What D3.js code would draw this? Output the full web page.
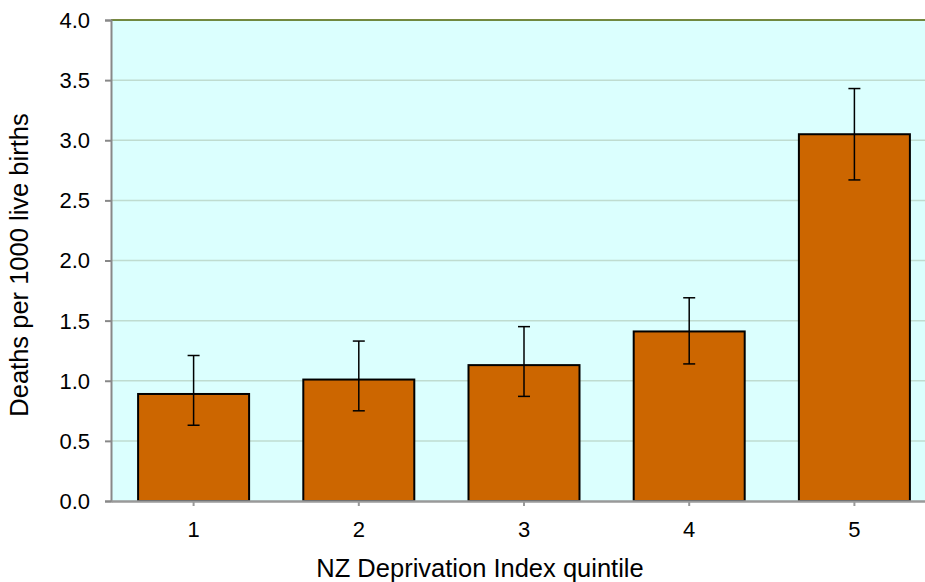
<!DOCTYPE html>
<html><head><meta charset="utf-8">
<script src="https://cdn.jsdelivr.net/npm/d3@7"></script>
<style>body{margin:0;background:#fff}svg{display:block}text{font-family:"Liberation Sans",Arial,sans-serif}</style>
</head><body>
<svg id="c" width="925" height="582"></svg>
<script>
const categories = ["1","2","3","4","5"];
const values = [0.89, 1.01, 1.13, 1.41, 3.05];
const lower = [0.63, 0.75, 0.87, 1.14, 2.67];
const upper = [1.21, 1.33, 1.45, 1.69, 3.43];
const yTicks = [0,0.5,1,1.5,2,2.5,3,3.5,4];

const svg = d3.select("#c");
const m = {l:111, t:20, r:937, b:501};
const xc = d3.scaleBand().domain(categories).range([m.l, m.r]);
const y = d3.scaleLinear().domain([0,4]).range([m.b, m.t]);

svg.append("rect").attr("x",m.l).attr("y",m.t).attr("width",m.r-m.l).attr("height",m.b-m.t).attr("fill","#dbfffe");
svg.selectAll(".grid").data(yTicks.filter(d=>d>0&&d<4)).enter().append("line")
  .attr("x1",m.l).attr("x2",m.r).attr("y1",d=>y(d)).attr("y2",d=>y(d))
  .attr("stroke","#bfdcd0").attr("stroke-width",1.5);
svg.append("line").attr("x1",m.l).attr("x2",m.r).attr("y1",y(4)).attr("y2",y(4)).attr("stroke","#4a6000").attr("stroke-width",1.5);

svg.selectAll(".bar").data(values).enter().append("rect")
  .attr("x",(d,i)=>xc(categories[i])+xc.bandwidth()/2-55.5).attr("width",111)
  .attr("y",d=>y(d)).attr("height",d=>y(0)-y(d))
  .attr("fill","#cc6600").attr("stroke","#000").attr("stroke-width",2);

const eb = svg.append("g").attr("stroke","#000").attr("stroke-width",1.5);
categories.forEach((c,i)=>{
  const cx = xc(c)+xc.bandwidth()/2;
  eb.append("line").attr("x1",cx).attr("x2",cx).attr("y1",y(upper[i])).attr("y2",y(lower[i]));
  eb.append("line").attr("x1",cx-6).attr("x2",cx+6).attr("y1",y(upper[i])).attr("y2",y(upper[i]));
  eb.append("line").attr("x1",cx-6).attr("x2",cx+6).attr("y1",y(lower[i])).attr("y2",y(lower[i]));
});

// y axis
const ya = svg.append("g").attr("transform",`translate(${m.l},0)`)
  .call(d3.axisLeft(y).tickValues(yTicks).tickFormat(d3.format(".1f")).tickSize(6).tickPadding(15));
ya.attr("font-size",22).attr("font-family","Liberation Sans, Arial, sans-serif");
ya.select(".domain").attr("stroke","#888").attr("stroke-width",2);
ya.selectAll(".tick line").attr("stroke","#888").attr("stroke-width",2);
ya.selectAll("text").attr("font-size",22).attr("fill","#000").attr("dy","0.34em");

// x axis
const xa = svg.append("g").attr("transform",`translate(0,${m.b})`)
  .call(d3.axisBottom(xc).tickSize(5).tickPadding(15).tickSizeOuter(0));
xa.attr("font-size",22).attr("font-family","Liberation Sans, Arial, sans-serif");
xa.select(".domain").attr("stroke","#999").attr("stroke-width",2.5);
xa.selectAll(".tick line").attr("stroke","#999").attr("stroke-width",2);
xa.selectAll("text").attr("font-size",22).attr("fill","#000");

svg.append("text").attr("x",480).attr("y",577).attr("text-anchor","middle").attr("font-size",25.5).text("NZ Deprivation Index quintile");
svg.append("text").attr("transform","translate(28,265) rotate(-90)").attr("text-anchor","middle").attr("font-size",25.5).text("Deaths per 1000 live births");
</script>
</body></html>
